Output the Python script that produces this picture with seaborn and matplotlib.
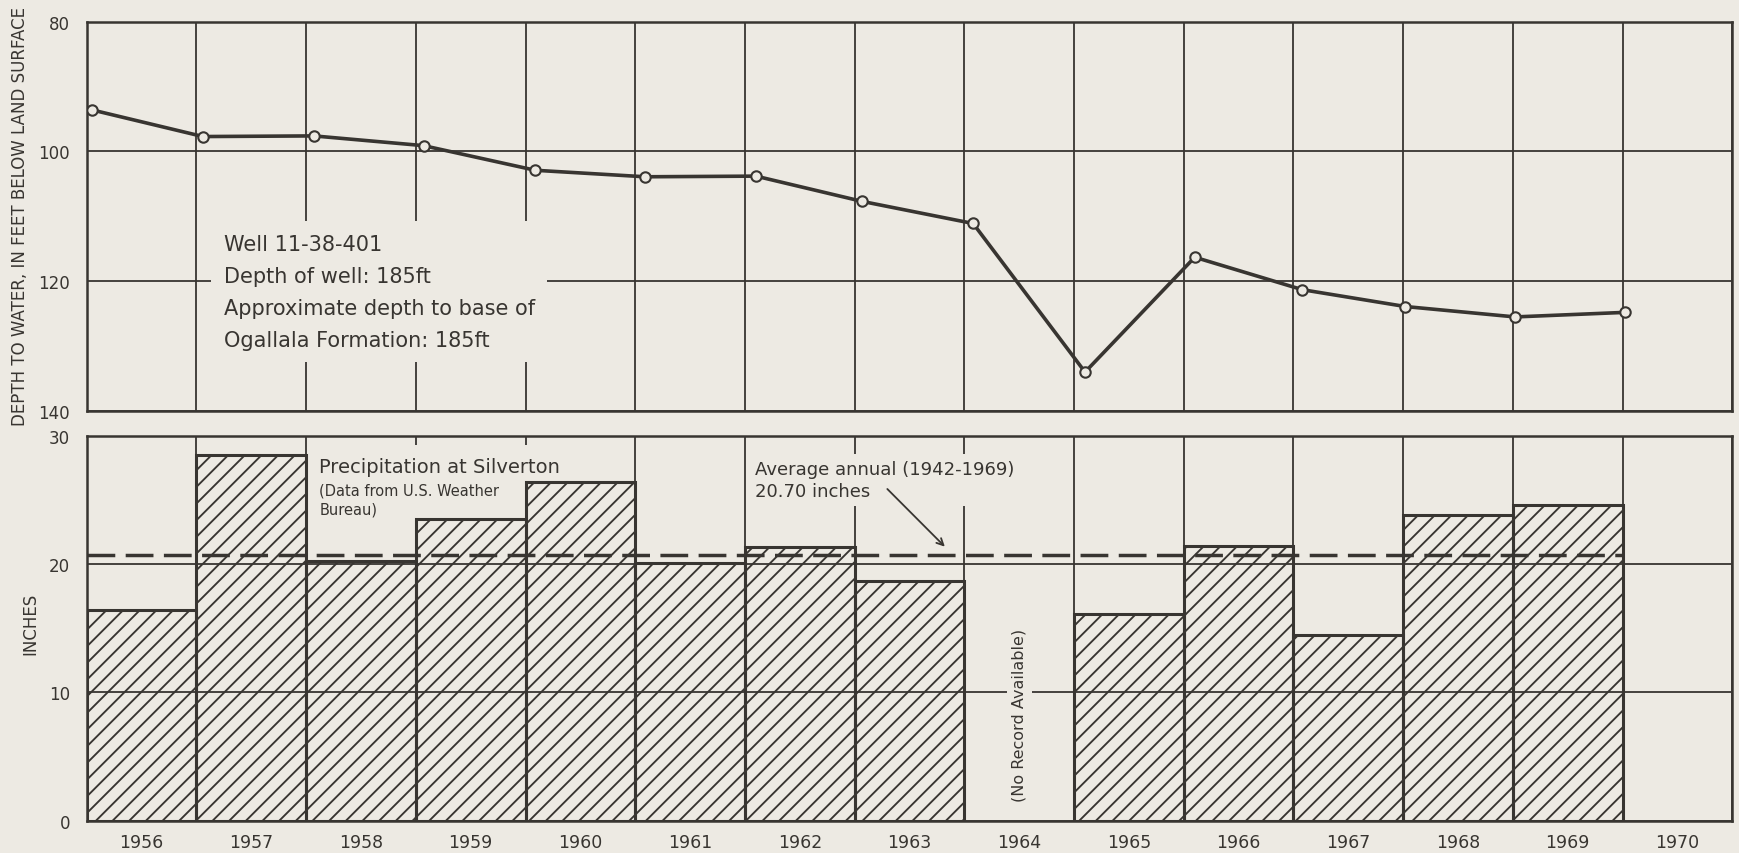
import numpy as np
import pandas as pd
import matplotlib.pyplot as plt
import seaborn as sns

# water level measurements: date (fractional year) and depth to water in feet
level_dates = [1956.05, 1957.06, 1958.07, 1959.07, 1960.09, 1961.09, 1962.10, 1963.07,
               1964.08, 1965.10, 1966.10, 1967.08, 1968.02, 1969.02, 1970.02]
level_depth = [93.6, 97.7, 97.6, 99.1, 102.9, 103.9, 103.8, 107.7,
               111.1, 134.0, 116.3, 121.3, 123.9, 125.5, 124.8]

# annual precipitation at Silverton (no record for 1964)
precip_years = [1956, 1957, 1958, 1959, 1960, 1961, 1962, 1963, 1965, 1966, 1967, 1968, 1969]
precip_inches = [16.4, 28.5, 20.2, 23.5, 26.4, 20.1, 21.3, 18.7, 16.1, 21.4, 14.5, 23.8, 24.6]
avg_annual = 20.70

year_labels = [str(y) for y in range(1956, 1971)]
depth_ticks = [80, 100, 120, 140]
inch_ticks = [0, 10, 20, 30]

bg = '#EDEAE3'
ink = '#383531'

sns.set_theme(style='white', rc={
    'axes.facecolor': bg, 'figure.facecolor': bg, 'savefig.facecolor': bg,
    'axes.edgecolor': ink, 'axes.linewidth': 1.8, 'text.color': ink,
    'xtick.color': ink, 'ytick.color': ink, 'grid.color': ink,
    'grid.linewidth': 1.3, 'hatch.linewidth': 1.35,
})
plt.rcParams['font.family'] = ['DejaVu Sans']

fig = plt.figure(figsize=(17.39, 8.54), dpi=100)
ax1 = fig.add_axes([0.04986, 0.51756, 0.94629, 0.45585])
ax2 = fig.add_axes([0.04986, 0.03782, 0.94629, 0.45082], sharex=ax1)

# ---- water level hydrograph
df_level = pd.DataFrame({'year': level_dates, 'depth': level_depth})
sns.lineplot(data=df_level, x='year', y='depth', ax=ax1, color=ink, linewidth=2.6,
             marker='o', markersize=7.5, markerfacecolor=bg, markeredgecolor=ink,
             markeredgewidth=1.5, zorder=3)
ax1.set_ylim(depth_ticks[-1], depth_ticks[0])
ax1.set_yticks(depth_ticks)
ax1.set_xlabel('')
ax1.set_ylabel('')
ax1.grid(True)
ax1.set_axisbelow(True)
ax1.tick_params(axis='both', length=0, labelsize=12, pad=12)
ax1.tick_params(axis='x', which='both', labelbottom=False)

ax1.text(1957.25, 121.6, 'Well 11-38-401\nDepth of well: 185ft\n'
         'Approximate depth to base of\nOgallala Formation: 185ft',
         fontsize=15, ha='left', va='center', linespacing=1.75, zorder=2,
         bbox=dict(boxstyle='square,pad=0.6', facecolor=bg, edgecolor='none'))

# ---- precipitation bars
df_p = pd.DataFrame({'mid': [y + 0.5 for y in precip_years], 'inches': precip_inches})
sns.barplot(data=df_p, x='mid', y='inches', ax=ax2, native_scale=True, width=1,
            orient='x', errorbar=None, color=ink, fill=False)
for p in ax2.patches:
    p.set_facecolor('none')
    p.set_edgecolor(ink)
    p.set_linewidth(2.2)
    p.set_hatch('//')
    p.set_zorder(2)

ax2.hlines(avg_annual, precip_years[0], precip_years[-1] + 1, colors=ink,
           linestyles=(0, (8, 3)), linewidth=2.5, zorder=3)

ax2.set_ylim(inch_ticks[0], inch_ticks[-1])
ax2.set_yticks(inch_ticks)
ax2.set_xlim(1956, 1971)
ax2.set_xticks(np.arange(1956, 1972))
ax2.set_xticklabels([])
ax2.set_xticks(np.arange(1956, 1971) + 0.5, minor=True)
ax2.set_xticklabels(year_labels, minor=True)
ax2.set_xlabel('')
ax2.set_ylabel('')
ax2.grid(True, which='major')
ax2.set_axisbelow(True)
ax2.tick_params(axis='y', length=0, labelsize=12, pad=12)
ax2.tick_params(axis='x', which='major', direction='out', length=13, width=1.6, color=ink)
ax2.tick_params(axis='x', which='minor', length=0, labelsize=12.5, pad=9)

ax2.text(1958.12, 27.6, 'Precipitation at Silverton', fontsize=14, ha='left',
         va='center', zorder=1.5,
         bbox=dict(boxstyle='square,pad=0.6', facecolor=bg, edgecolor='none'))
ax2.text(1958.12, 25.0, '(Data from U.S. Weather\nBureau)', fontsize=10.5, ha='left',
         va='center', linespacing=1.35, zorder=1.5,
         bbox=dict(boxstyle='square,pad=0.4', facecolor=bg, edgecolor='none'))

ax2.text(1962.09, 26.55, 'Average annual (1942-1969)\n20.70 inches', fontsize=13,
         ha='left', va='center', linespacing=1.25, zorder=1.5,
         bbox=dict(boxstyle='square,pad=0.35', facecolor=bg, edgecolor='none'))
ax2.annotate('', xy=(1963.84, avg_annual + 0.5), xytext=(1963.28, 26.0),
             arrowprops=dict(arrowstyle='->', color=ink, lw=1.3), zorder=3)

ax2.text(1964.5, 8.3, '(No Record Available)', rotation=90, fontsize=11.5,
         ha='center', va='center', zorder=1.5,
         bbox=dict(boxstyle='square,pad=0.3', facecolor=bg, edgecolor='none'))

# axis titles
fig.text(20 / 1739, 1 - 216 / 854, 'DEPTH TO WATER, IN FEET BELOW LAND SURFACE',
         rotation=90, ha='center', va='center', fontsize=12)
fig.text(30 / 1739, 1 - 624 / 854, 'INCHES', rotation=90, ha='center',
         va='center', fontsize=12)

fig.savefig('out.png', dpi=100)
